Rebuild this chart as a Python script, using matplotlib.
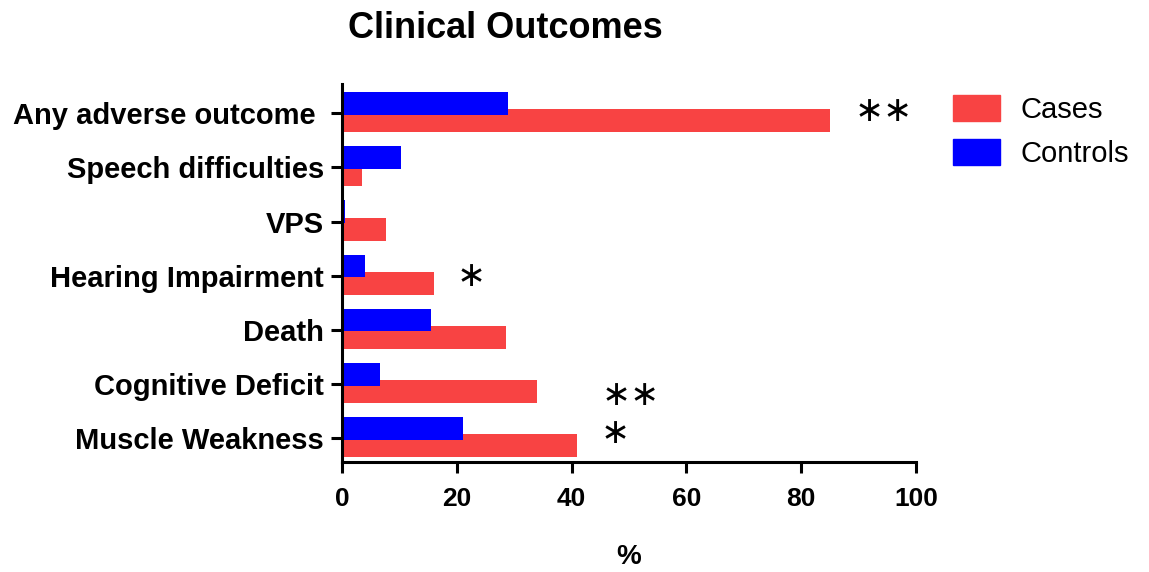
import matplotlib
matplotlib.use('Agg')
from matplotlib import pyplot as plt
from matplotlib.patches import Patch
import numpy as np

plt.rcParams['font.family'] = ['Liberation Sans', 'DejaVu Sans']

# bottom to top
categories = ['Muscle Weakness', 'Cognitive Deficit', 'Death', 'Hearing Impairment',
              'VPS', 'Speech difficulties', 'Any adverse outcome ']
cases = [41, 34, 28.5, 16, 7.7, 3.5, 85]
controls = [21, 6.7, 15.5, 4, 0.5, 10.3, 29]

# significance markers: (category position, x position, text)
marks = [(6.04, 94.3, '\u2217\u2217'), (3.0, 22.5, '\u2217'),
         (0.8, 50.3, '\u2217\u2217'), (0.1, 47.5, '\u2217')]

red = '#F84343'
blue = '#0000FF'

fig = plt.figure(figsize=(11.49, 5.72), dpi=100)
ax = fig.add_axes([342 / 1149, 1 - 462 / 572, (916 - 342) / 1149, (462 - 84) / 572])

y = np.arange(len(categories))
h = 0.42
ax.barh(y - 0.14, cases, height=h, color=red, label='Cases')
ax.barh(y + 0.18, controls, height=h, color=blue, label='Controls')

for yv, xv, txt in marks:
    ax.text(xv, yv, txt, fontsize=25, ha='center', va='center',
            family='DejaVu Sans')

ax.set_xlim(0, 100)
ax.set_ylim(-0.44, 6.54)
ax.set_xticks([0, 20, 40, 60, 80, 100])
ax.set_yticks(y)
ax.set_yticklabels(categories, fontsize=21, fontweight='bold')
for lbl in ax.get_xticklabels():
    lbl.set_fontsize(19)
    lbl.set_fontweight('bold')
ax.tick_params(axis='x', width=2.2, length=8, pad=10)
ax.tick_params(axis='y', width=2.2, length=8, pad=5)

for s in ['top', 'right']:
    ax.spines[s].set_visible(False)
for s in ['left', 'bottom']:
    ax.spines[s].set_linewidth(2.2)

ax.set_xlabel('%', fontsize=20, fontweight='bold', labelpad=24)

fig.text(505 / 1149, 1 - 29 / 572, 'Clinical Outcomes', fontsize=26, fontweight='bold',
         ha='center', va='center')

handles = [Patch(color=red, label='Cases'), Patch(color=blue, label='Controls')]
fig.legend(handles=handles, loc='upper left', bbox_to_anchor=(953 / 1149, 1 - 95 / 572),
           frameon=False, fontsize=21, handlelength=1.6, handleheight=1.0,
           labelspacing=0.5, handletextpad=0.7, borderpad=0, borderaxespad=0)

fig.savefig('out.png', dpi=100)
